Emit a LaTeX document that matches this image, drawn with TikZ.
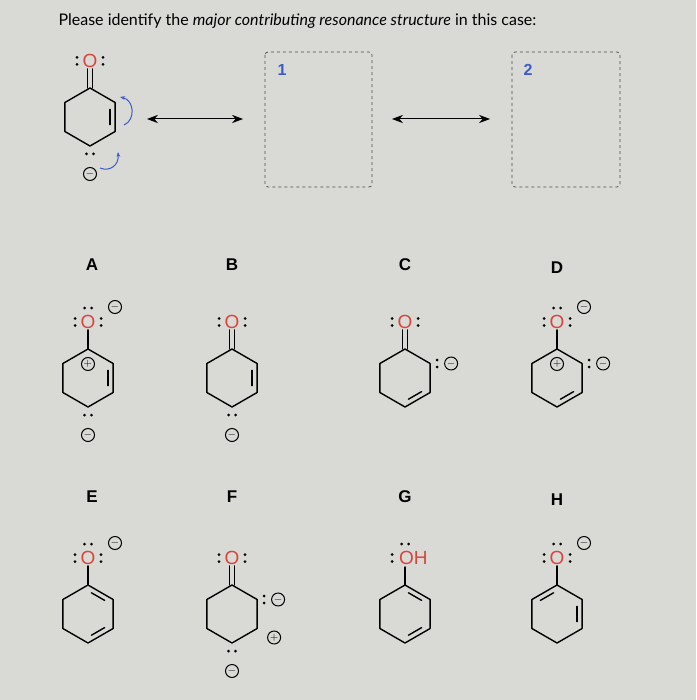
\documentclass[tikz,border=0pt]{standalone}
\usepackage{fontspec}
\setmainfont{Lato}
\setsansfont{Liberation Sans}
\usetikzlibrary{calc,arrows.meta}
\definecolor{bg}{HTML}{D9D9D6}
\definecolor{ored}{HTML}{D8463B}
\definecolor{cblue}{HTML}{3A5BC8}
\newcommand\mkring[3]{%
  \coordinate (#1c) at (#2,#3);
  \coordinate (#1t) at ($(#1c)+(0,-29)$);
  \coordinate (#1b) at ($(#1c)+(0,29)$);
  \coordinate (#1tr) at ($(#1c)+(25.1,-14.5)$);
  \coordinate (#1br) at ($(#1c)+(25.1,14.5)$);
  \coordinate (#1tl) at ($(#1c)+(-25.1,-14.5)$);
  \coordinate (#1bl) at ($(#1c)+(-25.1,14.5)$);
  \draw[bond] (#1t)--(#1tr)--(#1br)--(#1b)--(#1bl)--(#1tl)--cycle;}
\newcommand\dbl[3]{\draw[bond,shorten <=4pt,shorten >=4pt] ($(#1c)!0.8!(#1#2)$)--($(#1c)!0.8!(#1#3)$);}
\newcommand\oxy[3]{%
  \node[otext] (#1) at ($(#2t)+(0,-27)$) {O};
  \fill ($(#1)+(-13,-3.5)$) circle (1.5) ($(#1)+(-13,3.5)$) circle (1.5)
        ($(#1)+(13,-3.5)$) circle (1.5) ($(#1)+(13,3.5)$) circle (1.5);
  \ifnum#3=1
    \draw[bond] ($(#2t)+(-2.5,0)$)--($(#1.south)+(-2.5,1)$);
    \draw[bond] ($(#2t)+(2.5,0)$)--($(#1.south)+(2.5,1)$);
  \else
    \draw[bond] (#2t)--($(#1.south)+(0,1)$);
    \fill ($(#1)+(-3.5,-14)$) circle (1.5) ($(#1)+(3.5,-14)$) circle (1.5);
    \node[chg] at ($(#1)+(27,-15)$) {$-$};
  \fi}
\newcommand\carbb[1]{%
  \fill ($(#1b)+(-3.5,8)$) circle (1.5) ($(#1b)+(3.5,8)$) circle (1.5);
  \node[chg] at ($(#1b)+(0,28)$) {$-$};}
\newcommand\carbtr[1]{%
  \fill ($(#1tr)+(7,-3.5)$) circle (1.5) ($(#1tr)+(7,3.5)$) circle (1.5);
  \node[chg] at ($(#1tr)+(21,0)$) {$-$};}
\tikzset{bond/.style={line width=1.4pt,line cap=round,line join=round},
  otext/.style={text=ored,font=\sffamily\fontsize{19}{19}\selectfont,inner sep=0pt},
  chg/.style={draw,circle,line width=1pt,inner sep=0pt,minimum size=13pt,font=\fontsize{11}{11}\selectfont},
  lbl/.style={font=\sffamily\bfseries\fontsize{17}{17}\selectfont},
  box/.style={draw=black!70,dashed,line width=0.8pt,rounded corners=3pt}}
\begin{document}
\begin{tikzpicture}[x=1pt,y=-1pt]
\useasboundingbox (0,0) rectangle (696,700);
\fill[bg] (0,0) rectangle (696,700);
\node[anchor=west,font=\fontsize{16}{16}\selectfont] (title) at (55,21) {Please identify the \textit{major contributing resonance structure} in this case:};
\mkring{p}{90}{117}
\dbl{p}{tr}{br}
\oxy{po}{p}{1}
\carbb{p}
\draw[cblue,line width=1pt,-{Stealth[length=5pt]}] (124,125) .. controls (136,120) and (134,100) .. (120,97);
\draw[cblue,line width=1pt,-{Stealth[length=5pt]}] (100,168) .. controls (110,172) and (119,165) .. (118,152);
\coordinate (a1) at (147,119); \coordinate (a2) at (243,119);
\draw[line width=1pt,{Stealth[length=11pt]}-{Stealth[length=11pt]}] (a1)--(a2);
\coordinate (a3) at (392,119); \coordinate (a4) at (490,119);
\draw[line width=1pt,{Stealth[length=11pt]}-{Stealth[length=11pt]}] (a3)--(a4);
\draw[box] (265,52) rectangle (372,187);
\draw[box] (512,52) rectangle (620,187);
\node[text=cblue,font=\sffamily\bfseries\fontsize{16}{16}\selectfont] (n1) at (282,70) {1};
\node[text=cblue,font=\sffamily\bfseries\fontsize{16}{16}\selectfont] (n2) at (528,70) {2};
\node[lbl] (A) at (92,265) {A}; \node[lbl] (B) at (232,265) {B};
\node[lbl] (C) at (405,265) {C}; \node[lbl] (D) at (557,268) {D};
\node[lbl] (E) at (92,497) {E}; \node[lbl] (F) at (232,497) {F};
\node[lbl] (G) at (405,497) {G}; \node[lbl] (H) at (557,500) {H};
\mkring{A}{88}{378} \dbl{A}{tr}{br} \oxy{Ao}{A}{0} \carbb{A}
\node[chg] at ($(At)+(0,15)$) {$+$};
\mkring{B}{232}{378} \dbl{B}{tr}{br} \oxy{Bo}{B}{1} \carbb{B}
\mkring{C}{405}{378} \dbl{C}{br}{b} \oxy{Co}{C}{1} \carbtr{C}
\mkring{D}{557}{378} \dbl{D}{br}{b} \oxy{Do}{D}{0} \carbtr{D}
\node[chg] at ($(Dt)+(0,15)$) {$+$};
\mkring{E}{88}{614} \dbl{E}{t}{tr} \dbl{E}{br}{b} \oxy{Eo}{E}{0}
\mkring{F}{232}{614} \oxy{Fo}{F}{1} \carbtr{F} \carbb{F}
\node[chg] at ($(Fbr)+(17,9)$) {$+$};
\mkring{G}{405}{614} \dbl{G}{t}{tr} \dbl{G}{br}{b}
\node[otext,anchor=west] (Go) at ($(Gt)+(-6,-27)$) {OH};
\draw[bond] (Gt)--($(Gt)+(0,-18)$);
\fill ($(Gt)+(-13,-30.5)$) circle (1.5) ($(Gt)+(-13,-23.5)$) circle (1.5)
      ($(Gt)+(-3.5,-41)$) circle (1.5) ($(Gt)+(3.5,-41)$) circle (1.5);
\mkring{H}{557}{614} \dbl{H}{t}{tl} \dbl{H}{tr}{br} \oxy{Ho}{H}{0}
\end{tikzpicture}
\end{document}
